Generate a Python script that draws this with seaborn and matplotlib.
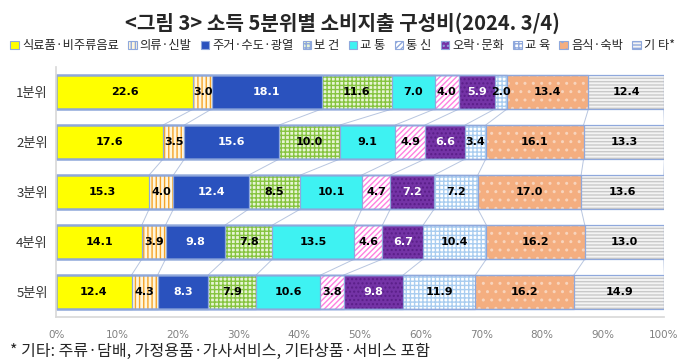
import numpy as np
import pandas as pd
import matplotlib
matplotlib.use("Agg")
import matplotlib.pyplot as plt
import seaborn as sns
from matplotlib.patches import Patch

sns.set_theme(style="white")
plt.rcParams['font.family'] = ['Noto Sans CJK KR', 'DejaVu Sans']
plt.rcParams['hatch.linewidth'] = 1.0

title = "<그림 3> 소득 5분위별 소비지출 구성비(2024. 3/4)"
footnote = "* 기타: 주류·담배, 가정용품·가사서비스, 기타상품·서비스 포함"

quintiles = ["1분위", "2분위", "3분위", "4분위", "5분위"]
categories = ["식료품·비주류음료", "의류·신발", "주거·수도·광열", "보 건", "교 통",
              "통 신", "오락·문화", "교 육", "음식·숙박", "기 타*"]

food      = [22.6, 17.6, 15.3, 14.1, 12.4]
clothing  = [3.0, 3.5, 4.0, 3.9, 4.3]
housing   = [18.1, 15.6, 12.4, 9.8, 8.3]
health    = [11.6, 10.0, 8.5, 7.8, 7.9]
transport = [7.0, 9.1, 10.1, 13.5, 10.6]
comm      = [4.0, 4.9, 4.7, 4.6, 3.8]
recreation = [5.9, 6.6, 7.2, 6.7, 9.8]
education = [2.0, 3.4, 7.2, 10.4, 11.9]
restaurant = [13.4, 16.1, 17.0, 16.2, 16.2]
others    = [12.4, 13.3, 13.6, 13.0, 14.9]

series = [food, clothing, housing, health, transport, comm, recreation,
          education, restaurant, others]

# style per category: face, hatch, hatch colour, text colour
faces = ['#FFFF00', '#FFF6DC', '#2A52BE', '#E8F5D5', '#3EF2F2',
         '#FFFFFF', '#7433A6', '#FFFFFF', '#F4AE80', '#F4F4F4']
hatches = [None, '||||', None, '++++', None, '//////', '....', '++++', '..', '-----']
hatch_cols = [None, '#F5A42A', None, '#86C440', None, '#FF80E0', '#5A1F88', '#A9CDF0', '#F8D4BC', '#C9C9C9']
text_cols = ['black', 'black', 'white', 'black', 'black', 'black', 'white', 'black', 'black', 'black']
border = '#8FA8DC'

values = np.array(series)          # (10, 5)
cum = np.cumsum(values, axis=0)

fig = plt.figure(figsize=(6.85, 3.62), dpi=100)
ax = fig.add_axes([0.082, 0.124, 0.887, 0.691])

# stacked bars: draw cumulative totals from largest to smallest
for i in range(len(series) - 1, -1, -1):
    df = pd.DataFrame({"q": quintiles, "v": cum[i]})
    sns.barplot(data=df, x="v", y="q", orient="h", ax=ax, color=faces[i],
                saturation=1, width=0.68, linewidth=0, edgecolor=faces[i])
    if hatches[i]:
        sns.barplot(data=df, x="v", y="q", orient="h", ax=ax, fill=False,
                    width=0.68, linewidth=0, edgecolor=hatch_cols[i],
                    hatch=hatches[i])
# segment borders
for i in range(len(series)):
    df = pd.DataFrame({"q": quintiles, "v": cum[i]})
    sns.barplot(data=df, x="v", y="q", orient="h", ax=ax, fill=False,
                width=0.68, linewidth=0.9, edgecolor=border)

# series connector lines
for i in range(len(series)):
    for r in range(len(quintiles) - 1):
        ax.plot([cum[i][r], cum[i][r + 1]], [r + 0.34, r + 1 - 0.34],
                color='#B8C6E0', lw=0.7, zorder=0.5)

# value labels
for i in range(len(series)):
    for r in range(len(quintiles)):
        v = values[i][r]
        ax.text(cum[i][r] - v / 2, r, f"{v:.1f}", ha='center', va='center',
                fontsize=8, fontweight='bold', color=text_cols[i],
                family=['DejaVu Sans'], zorder=5)

ax.set_xlim(0, 100)
ax.set_ylim(4.5, -0.5)
ax.set_xticks(np.arange(0, 101, 10))
ax.set_xticklabels([f"{t}%" for t in range(0, 101, 10)], fontsize=7.5, color='#808080',
                   family=['DejaVu Sans'])
ax.set_xlabel("")
ax.set_ylabel("")
ax.tick_params(axis='y', labelsize=9.5, length=0, pad=6, colors='#333333')
ax.tick_params(axis='x', length=3, color='#D0D0D0', pad=6)
for s in ['top', 'right']:
    ax.spines[s].set_visible(False)
ax.spines['left'].set_color('#D9D9D9')
ax.spines['bottom'].set_color('#D9D9D9')
ax.grid(False)

fig.text(0.5, 0.935, title, ha='center', va='center', fontsize=14.5, fontweight='bold')

handles = []
for i in range(len(series)):
    handles.append(Patch(facecolor=faces[i], edgecolor=hatch_cols[i] if hatches[i] else faces[i],
                         hatch=hatches[i], linewidth=0))
leg = fig.legend(handles, categories, loc='center', bbox_to_anchor=(0.5, 0.873), ncol=10,
                 frameon=False, fontsize=8.8, handlelength=0.7, handleheight=0.7,
                 handletextpad=0.25, columnspacing=0.75, borderaxespad=0)
for h in leg.legend_handles:
    h.set_edgecolor(border)
    h.set_linewidth(0.8)

fig.text(0.015, 0.03, footnote, ha='left', va='center', fontsize=11.5)

fig.savefig("out.png", dpi=100)
